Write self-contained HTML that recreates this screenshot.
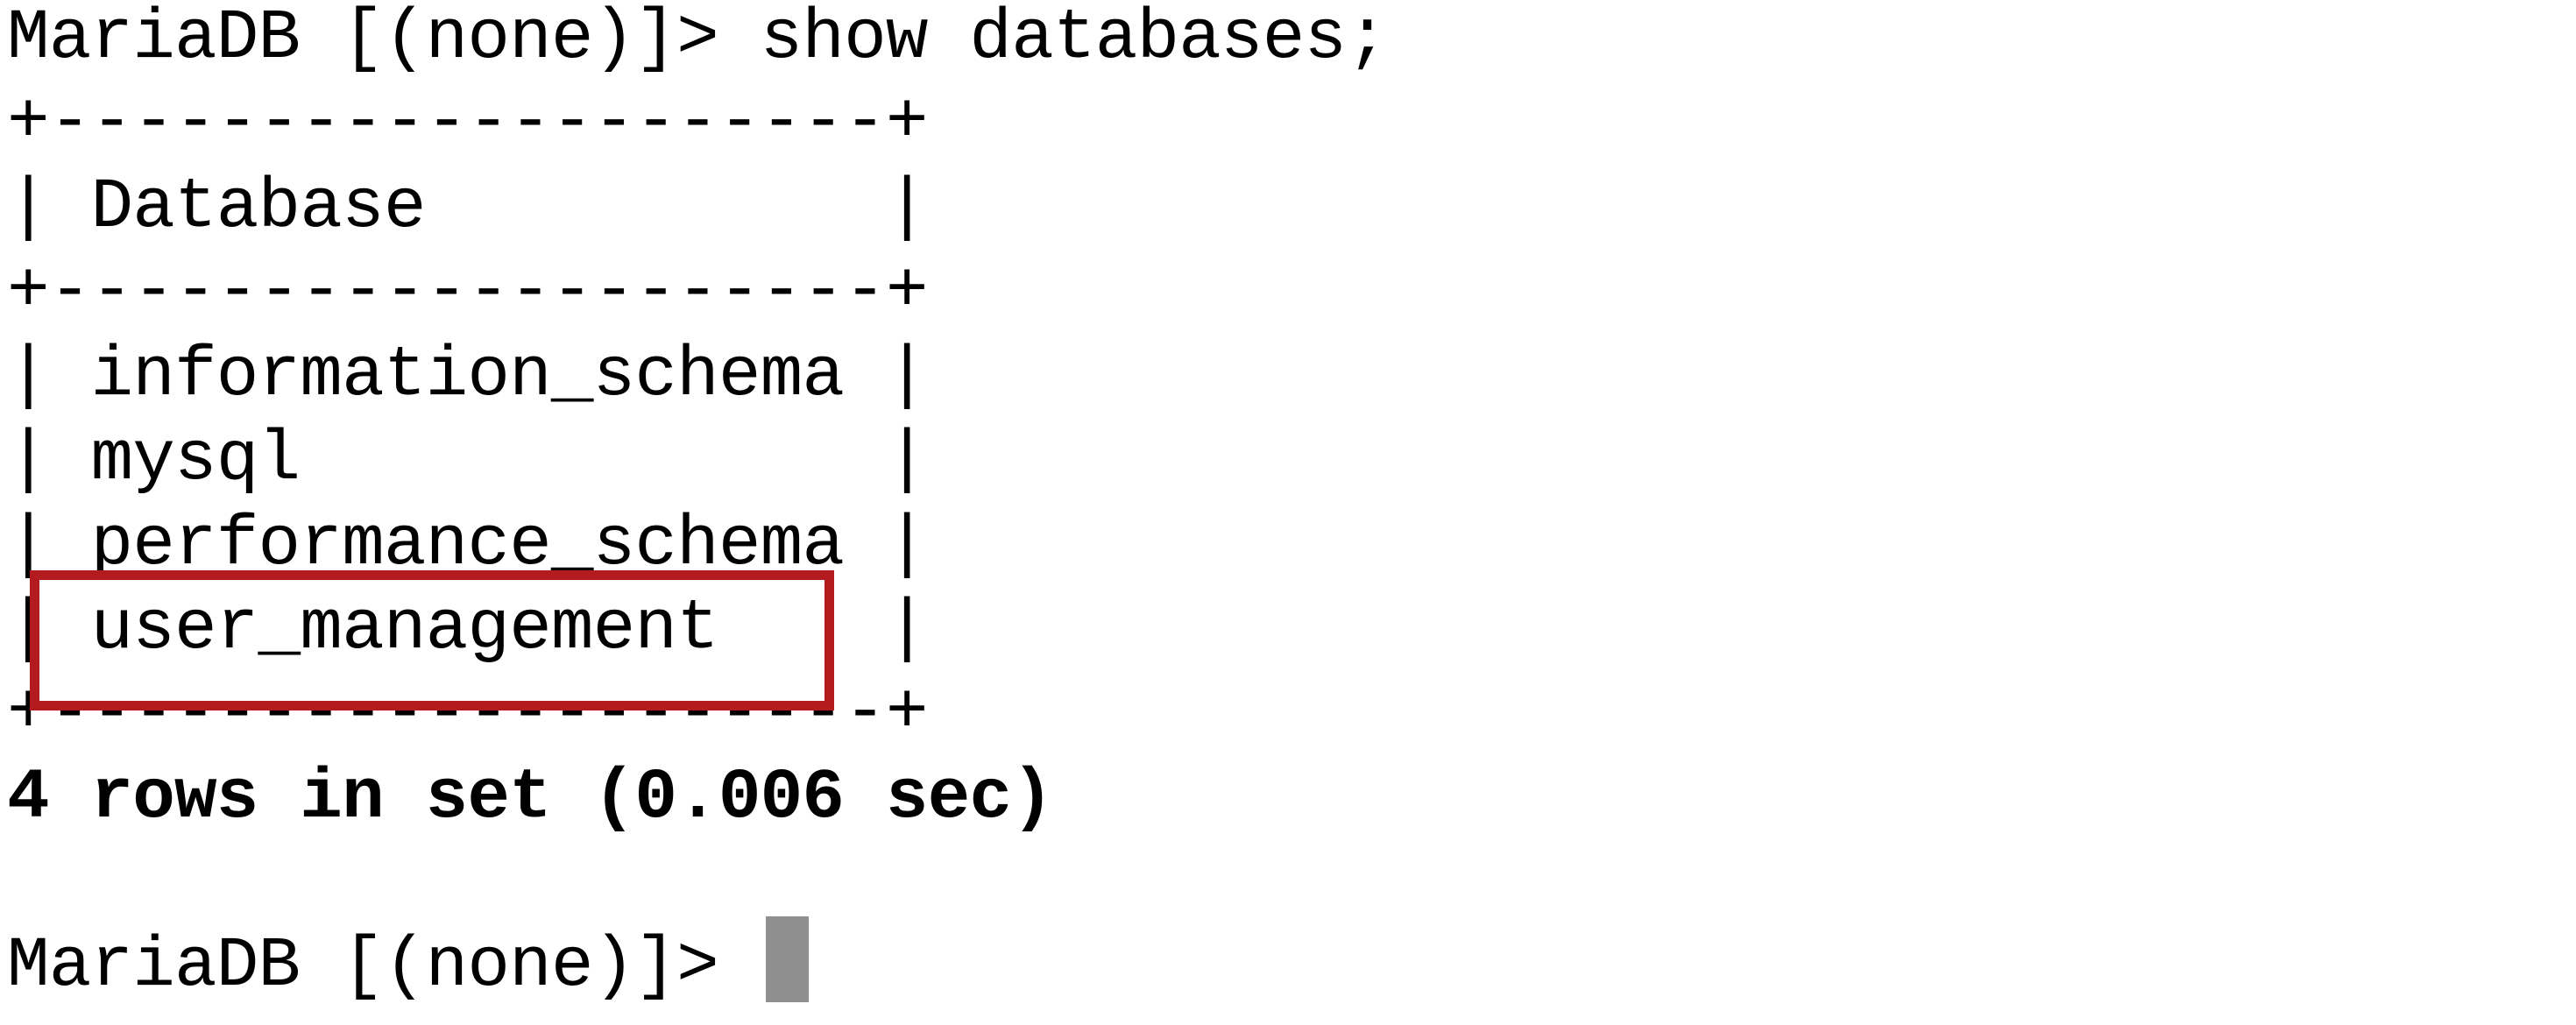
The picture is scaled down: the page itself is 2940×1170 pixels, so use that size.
<!DOCTYPE html>
<html><head><meta charset="utf-8"><style>
html,body{margin:0;padding:0;background:#fff;width:2940px;height:1170px;overflow:hidden;position:relative}
pre{position:absolute;left:8px;top:-3px;margin:0;font-family:"Liberation Mono",monospace;font-size:81px;line-height:96.3px;color:#000;letter-spacing:-0.85px}
b{font-weight:bold}
.box{position:absolute;left:34px;top:651px;width:896px;height:138px;border:11px solid #b31b1e}
.cur{position:absolute;left:874px;top:1046px;width:49px;height:98px;background:#8f8f8f}
</style></head><body>
<pre>MariaDB [(none)]&gt; show databases;
+--------------------+
| Database           |
+--------------------+
| information_schema |
| mysql              |
| performance_schema |
| user_management    |
+--------------------+
<b>4 rows in set (0.006 sec)</b>

MariaDB [(none)]&gt; </pre>
<div class="box"></div>
<div class="cur"></div>
</body></html>
